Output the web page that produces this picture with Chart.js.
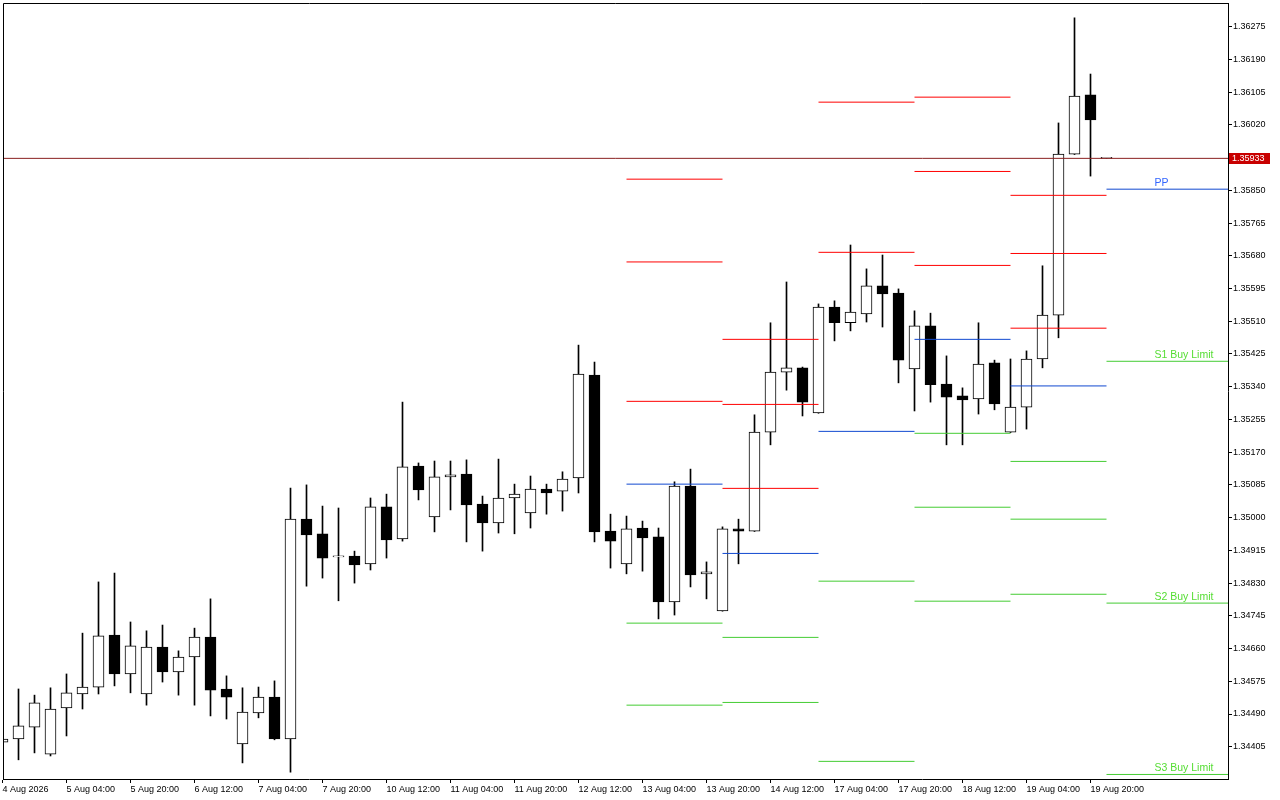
<!DOCTYPE html>
<html>
<head>
<meta charset="utf-8">
<style>
  html, body { margin: 0; padding: 0; background: #fff; }
</style>
<script src="https://cdn.jsdelivr.net/npm/chart.js@4.4.1/dist/chart.umd.min.js"></script>
</head>
<body>
<canvas id="priceChart" width="1280" height="800"></canvas>
<script>
// H4 candles, index 0 = 4 Aug 12:00
var opens = [1.34417, 1.34425, 1.34456, 1.34386, 1.34506, 1.34542, 1.34560, 1.34695, 1.34594, 1.34542,
  1.34664, 1.34599, 1.34638, 1.34690, 1.34555, 1.34412, 1.34493, 1.34534, 1.34425, 1.34996,
  1.34958, 1.34898, 1.34900, 1.34880, 1.35028, 1.34945, 1.35134, 1.35002, 1.35106, 1.35113,
  1.35035, 1.34986, 1.35051, 1.35012, 1.35074, 1.35069, 1.35103, 1.35370, 1.34965, 1.34880,
  1.34973, 1.34950, 1.34781, 1.35082, 1.34854, 1.34758, 1.34971, 1.34965, 1.35222, 1.35378,
  1.35389, 1.35272, 1.35547, 1.35506, 1.35529, 1.35602, 1.35583, 1.35386, 1.35498, 1.35347,
  1.35316, 1.35308, 1.35402, 1.35222, 1.35287, 1.35412, 1.35526, 1.35944, 1.36098, 1.35933];
var highs = [1.34428, 1.34555, 1.34539, 1.34558, 1.34594, 1.34700, 1.34833, 1.34856, 1.34729, 1.34706,
  1.34721, 1.34654, 1.34713, 1.34789, 1.34589, 1.34558, 1.34560, 1.34576, 1.35077, 1.35085,
  1.35030, 1.35025, 1.34913, 1.35051, 1.35061, 1.35300, 1.35142, 1.35147, 1.35147, 1.35150,
  1.35056, 1.35152, 1.35087, 1.35108, 1.35087, 1.35119, 1.35448, 1.35404, 1.35009, 1.35004,
  1.34991, 1.34973, 1.35093, 1.35126, 1.34885, 1.34976, 1.34996, 1.35267, 1.35506, 1.35612,
  1.35391, 1.35555, 1.35563, 1.35708, 1.35646, 1.35682, 1.35594, 1.35537, 1.35531, 1.35420,
  1.35337, 1.35506, 1.35409, 1.35412, 1.35433, 1.35654, 1.36025, 1.36298, 1.36152, 1.35933];
var lows = [1.34415, 1.34371, 1.34389, 1.34381, 1.34433, 1.34503, 1.34542, 1.34563, 1.34545, 1.34513,
  1.34573, 1.34539, 1.34513, 1.34485, 1.34477, 1.34363, 1.34480, 1.34423, 1.34339, 1.34822,
  1.34843, 1.34784, 1.34830, 1.34864, 1.34895, 1.34939, 1.35046, 1.34963, 1.35020, 1.34937,
  1.34913, 1.34960, 1.34958, 1.34973, 1.35009, 1.35017, 1.35064, 1.34937, 1.34869, 1.34854,
  1.34861, 1.34737, 1.34747, 1.34820, 1.34789, 1.34757, 1.34880, 1.34964, 1.35189, 1.35331,
  1.35264, 1.35271, 1.35459, 1.35485, 1.35508, 1.35495, 1.35350, 1.35277, 1.35300, 1.35189,
  1.35189, 1.35269, 1.35280, 1.35221, 1.35230, 1.35389, 1.35467, 1.35943, 1.35887, 1.35933];
var closes = [1.34425, 1.34459, 1.34519, 1.34503, 1.34545, 1.34560, 1.34693, 1.34594, 1.34667, 1.34664,
  1.34599, 1.34638, 1.34690, 1.34552, 1.34534, 1.34495, 1.34534, 1.34425, 1.34996, 1.34955,
  1.34895, 1.34898, 1.34877, 1.35028, 1.34942, 1.35132, 1.35072, 1.35106, 1.35111, 1.35033,
  1.34986, 1.35051, 1.35061, 1.35074, 1.35064, 1.35100, 1.35373, 1.34963, 1.34939, 1.34971,
  1.34947, 1.34781, 1.35082, 1.34851, 1.34859, 1.34971, 1.34965, 1.35222, 1.35378, 1.35389,
  1.35300, 1.35547, 1.35506, 1.35534, 1.35602, 1.35581, 1.35409, 1.35498, 1.35345, 1.35313,
  1.35306, 1.35399, 1.35295, 1.35287, 1.35412, 1.35526, 1.35944, 1.36095, 1.36033, 1.35933];

var bid = 1.35933;

var tickPos = [0, 4, 8, 12, 16, 20, 24, 28, 32, 36, 40, 44, 48, 52, 56, 60, 64, 68];
var tickLabels = ["4 Aug 2026", "5 Aug 04:00", "5 Aug 20:00", "6 Aug 12:00", "7 Aug 04:00", "7 Aug 20:00",
  "10 Aug 12:00", "11 Aug 04:00", "11 Aug 20:00", "12 Aug 12:00", "13 Aug 04:00", "13 Aug 20:00",
  "14 Aug 12:00", "17 Aug 04:00", "17 Aug 20:00", "18 Aug 12:00", "19 Aug 04:00", "19 Aug 20:00"];
var yTicks = [1.34405, 1.34490, 1.34575, 1.34660, 1.34745, 1.34830, 1.34915, 1.35000, 1.35085, 1.35170,
  1.35255, 1.35340, 1.35425, 1.35510, 1.35595, 1.35680, 1.35765, 1.35850, 1.36020, 1.36105,
  1.36190, 1.36275];

// daily pivot levels: 13, 14, 17, 18, 19, 20 Aug
var dayStart = [39, 45, 51, 57, 63, 69];
var dayEnd = [45, 51, 57, 63, 69, 77];
var R3 = [1.35879, 1.35463, null, 1.36092, 1.35837, null];
var R2 = [1.35664, 1.35294, 1.36079, 1.35899, 1.35686, null];
var R1 = [1.35302, 1.35076, 1.35689, 1.35655, 1.35492, null];
var PP = [1.35087, 1.34907, 1.35224, 1.35463, 1.35342, 1.35853];
var S1 = [1.34726, 1.34689, 1.34835, 1.35219, 1.35146, 1.35406];
var S2 = [1.34513, 1.34520, 1.34367, 1.35027, 1.34996, 1.34778];
var S3 = [null, null, null, 1.34783, 1.34801, 1.34333];

var labelAt = 72;
var lastLabels = [["PP", PP], ["S1 Buy Limit", S1], ["S2 Buy Limit", S2], ["S3 Buy Limit", S3]];

var RED = '#ff0000', BLUE = '#1048d0', GREEN = '#44cc33';
var FONT = "'Liberation Sans', Arial, sans-serif";

function segments(levels) {
  var pts = [];
  for (var d = 0; d < levels.length; d++) {
    if (levels[d] === null) continue;
    pts.push({x: dayStart[d], y: levels[d]}, {x: dayEnd[d], y: levels[d]}, {x: dayEnd[d], y: null});
  }
  return pts;
}

function levelSet(levels, color) {
  return {
    type: 'line', data: segments(levels), borderColor: color, borderWidth: 1,
    pointRadius: 0, fill: false, spanGaps: false, tension: 0, order: 0
  };
}

var wicks = opens.map(function (o, i) { return {x: i, y: [lows[i], highs[i]]}; });
var bodies = opens.map(function (o, i) { return {x: i, y: [o, closes[i]]}; });

var framePlugin = {
  id: 'frame',
  afterDraw: function (chart) {
    var a = chart.chartArea, ctx = chart.ctx;
    ctx.save();
    ctx.strokeStyle = '#000';
    ctx.lineWidth = 1;
    ctx.beginPath();
    ctx.moveTo(a.left + 0.5, a.bottom);
    ctx.lineTo(a.left + 0.5, a.top + 0.5);
    ctx.lineTo(a.right, a.top + 0.5);
    ctx.stroke();

    // level captions for the coming day
    var x = chart.scales.x.getPixelForValue(labelAt);
    ctx.font = '10.5px ' + FONT;
    ctx.textAlign = 'left';
    ctx.textBaseline = 'alphabetic';
    lastLabels.forEach(function (l) {
      var v = l[1][l[1].length - 1];
      ctx.fillStyle = l[0] === 'PP' ? '#3366ff' : '#55dd33';
      ctx.fillText(l[0], x, chart.scales.y.getPixelForValue(v) - 3);
    });

    // bid price box
    var y = chart.scales.y;
    var py = Math.round(y.getPixelForValue(bid));
    ctx.fillStyle = '#c80000';
    ctx.fillRect(y.left + 1, py - 5, 41, 11);
    ctx.fillStyle = '#fff';
    ctx.font = '9px ' + FONT;
    ctx.textBaseline = 'middle';
    ctx.fillText(bid.toFixed(5), y.left + 4, py + 0.5);
    ctx.restore();
  }
};

var ctx = document.getElementById("priceChart");
var priceChart = new Chart(ctx, {
  type: 'bar',
  data: {
    datasets: [
      levelSet(R3, RED), levelSet(R2, RED), levelSet(R1, RED),
      levelSet(PP, BLUE),
      levelSet(S1, GREEN), levelSet(S2, GREEN), levelSet(S3, GREEN),
      {
        type: 'line', data: [{x: 0, y: bid}, {x: 77, y: bid}], borderColor: '#8a2020',
        borderWidth: 1, pointRadius: 0, fill: false, order: 0
      },
      {
        label: 'bodies', data: bodies, grouped: false, barThickness: 11, minBarLength: 1,
        borderWidth: 1, borderColor: '#000', borderSkipped: false,
        backgroundColor: function (c) { return closes[c.dataIndex] >= opens[c.dataIndex] ? '#fff' : '#000'; },
        order: 1
      },
      {
        label: 'wicks', data: wicks, grouped: false, barThickness: 1,
        backgroundColor: '#000', borderWidth: 0, order: 2
      }
    ]
  },
  options: {
    responsive: false,
    animation: false,
    devicePixelRatio: 1,
    layout: { padding: { left: 3, top: 3, right: 0, bottom: 0 } },
    plugins: { legend: { display: false }, tooltip: { enabled: false } },
    scales: {
      x: {
        type: 'linear', min: 0.03125, max: 76.59375, offset: false,
        afterBuildTicks: function (s) { s.ticks = tickPos.map(function (v) { return {value: v}; }); },
        afterFit: function (s) { s.height = 21; s.paddingLeft = 0; s.paddingRight = 0; },
        ticks: {
          autoSkip: false, maxRotation: 0, align: 'start', padding: 1, color: '#000',
          font: { family: FONT, size: 9 },
          callback: function (v, i) { return tickLabels[i]; }
        },
        grid: { drawOnChartArea: false, offset: false, tickLength: 4, color: '#000', tickColor: '#000' },
        border: { color: '#000', width: 1 }
      },
      y: {
        type: 'linear', position: 'right', min: 1.343212, max: 1.363365,
        afterBuildTicks: function (s) { s.ticks = yTicks.map(function (v) { return {value: v}; }); },
        afterFit: function (s) { s.width = 52; s.paddingTop = 0; s.paddingBottom = 0; },
        ticks: {
          padding: 1, color: '#000', font: { family: FONT, size: 9 },
          callback: function (v) { return v.toFixed(5); }
        },
        grid: { drawOnChartArea: false, tickLength: 4, color: '#000', tickColor: '#000' },
        border: { color: '#000', width: 1 }
      }
    }
  },
  plugins: [framePlugin]
});
</script>
</body>
</html>
